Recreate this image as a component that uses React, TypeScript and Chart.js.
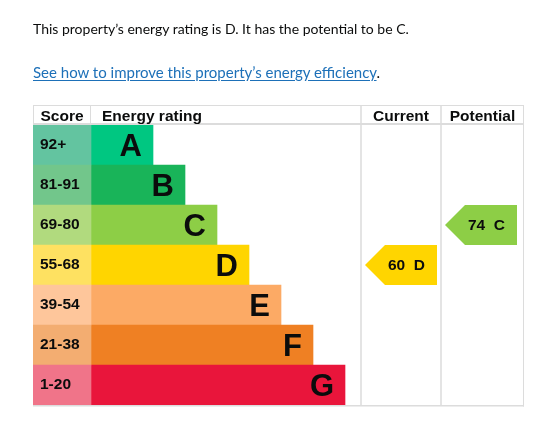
import React, { useEffect, useRef } from "react";
import { Chart, registerables } from "chart.js";

Chart.register(...registerables);

// ---- data ----
const bands = ["A", "B", "C", "D", "E", "F", "G"];
const scoreRanges = ["92+", "81-91", "69-80", "55-68", "39-54", "21-38", "1-20"];
const bandMinScores = [92, 81, 69, 55, 39, 21, 1];
const barReach = [1, 2, 3, 4, 5, 6, 7];
const bandColors = ["#00c781", "#19b459", "#8dce46", "#ffd500", "#fcaa65", "#ef8023", "#e9153b"];
const scoreCellColors = ["#63c4a0", "#72c68b", "#b1da7e", "#fee161", "#fec69b", "#f3ad71", "#f07489"];
const currentScore = 60;
const potentialScore = 74;
const columnHeaders = ["Score", "Energy rating", "Current", "Potential"];
const currentRating = "D";
const potentialRating = "C";

// ---- layout (x-scale units) ----
const X_SCORE = -2.75;
const X_BAR = -0.9375;
const X_CUR = 7.5;
const X_POT = 10;
const X_MAX = 12.59375;

const TEXT = "#0b0c0c";
const GRID = "#dcdcdc";
const HEAD_FONT = "bold 15.5px 'Liberation Sans', Arial, sans-serif";

function bandIndex(score: number) {
  for (let i = 0; i < bandMinScores.length; i++) if (score >= bandMinScores[i]) return i;
  return bandMinScores.length - 1;
}

const tablePlugin = {
  id: "epcTable",
  afterDatasetsDraw(chart: any) {
    const { ctx, chartArea, scales } = chart;
    const { left, right, top, bottom } = chartArea;
    const x = scales.x;
    const y = scales.y;
    const rowH = (bottom - top) / bands.length;
    const headTop = top - 20;
    const xScore = x.getPixelForValue(X_SCORE);
    const xBar = x.getPixelForValue(X_BAR);
    const xCur = x.getPixelForValue(X_CUR);
    const xPot = x.getPixelForValue(X_POT);
    const xEnd = x.getPixelForValue(X_MAX);

    ctx.save();
    // grid lines
    ctx.fillStyle = GRID;
    ctx.fillRect(left, headTop, right - left, 1);
    ctx.fillRect(left, top - 2, right - left, 2);
    ctx.fillRect(left, bottom, right - left, 1.5);
    ctx.fillRect(xScore, headTop, 1, 20);
    ctx.fillRect(xBar - 1, headTop, 1, 20);
    ctx.fillRect(xCur - 0.75, headTop, 1.5, bottom - headTop);
    ctx.fillRect(xPot - 0.75, headTop, 1.5, bottom - headTop);
    ctx.fillRect(xEnd - 1, headTop, 1, bottom - headTop + 1.5);

    // header text
    ctx.fillStyle = TEXT;
    ctx.font = HEAD_FONT;
    ctx.textBaseline = "alphabetic";
    const hb = top - 4;
    ctx.textAlign = "center";
    ctx.fillText(columnHeaders[0], (xScore + xBar) / 2, hb);
    ctx.textAlign = "left";
    ctx.fillText(columnHeaders[1], xBar + 11, hb);
    ctx.textAlign = "center";
    ctx.fillText(columnHeaders[2], (xCur + xPot) / 2, hb);
    ctx.fillText(columnHeaders[3], (xPot + xEnd) / 2, hb);

    // score labels and band letters
    bands.forEach((b, i) => {
      const yc = y.getPixelForValue(i);
      ctx.font = HEAD_FONT;
      ctx.textAlign = "left";
      ctx.fillText(scoreRanges[i], xScore + 7, yc + 4);
      ctx.font = "bold 31px 'Liberation Sans', Arial, sans-serif";
      ctx.textAlign = "right";
      ctx.fillText(b, x.getPixelForValue(barReach[i]) - 11, yc + 11);
    });

    // arrows
    const arrows = [
      { score: currentScore, rating: currentRating, colLeft: xCur },
      { score: potentialScore, rating: potentialRating, colLeft: xPot },
    ];
    arrows.forEach((a) => {
      const i = bandIndex(a.score);
      const yc = y.getPixelForValue(i);
      const half = rowH / 2;
      const tip = a.colLeft + 4;
      const r = tip + 72;
      ctx.beginPath();
      ctx.moveTo(tip, yc);
      ctx.lineTo(tip + half, yc - half);
      ctx.lineTo(r, yc - half);
      ctx.lineTo(r, yc + half);
      ctx.lineTo(tip + half, yc + half);
      ctx.closePath();
      ctx.fillStyle = bandColors[i];
      ctx.fill();
      ctx.fillStyle = TEXT;
      ctx.font = HEAD_FONT;
      ctx.textAlign = "center";
      ctx.fillText(`${a.score}  ${a.rating}`, tip + 41.5, yc + 5);
    });
    ctx.restore();
  },
};

export default function App() {
  const ref = useRef<HTMLCanvasElement | null>(null);
  useEffect(() => {
    if (!ref.current) return;
    const barCommon = {
      grouped: false,
      categoryPercentage: 1,
      barPercentage: 1,
      borderWidth: 0,
    };
    const chart = new Chart(ref.current, {
      type: "bar",
      data: {
        labels: bands,
        datasets: [
          { ...barCommon, data: bands.map(() => [X_SCORE, X_BAR]), backgroundColor: scoreCellColors },
          { ...barCommon, data: barReach.map((v) => [X_BAR, v]), backgroundColor: bandColors },
        ] as any,
      },
      options: {
        indexAxis: "y",
        animation: false,
        responsive: false,
        maintainAspectRatio: false,
        layout: { padding: { left: 33, right: 23, top: 125, bottom: 21 } },
        scales: {
          x: { type: "linear", min: X_SCORE, max: X_MAX, display: false },
          y: { type: "category", display: false, offset: true },
        },
        plugins: { legend: { display: false }, tooltip: { enabled: false } },
      } as any,
      plugins: [tablePlugin],
    });
    return () => chart.destroy();
  }, []);

  const textStyle: React.CSSProperties = {
    position: "absolute",
    left: 33,
    margin: 0,
    fontFamily: "Lato, sans-serif",
    lineHeight: "15px",
    whiteSpace: "nowrap",
    color: TEXT,
  };

  return (
    <div style={{ position: "absolute", left: 0, top: 0, width: 547, height: 426, background: "#fff" }}>
      <canvas ref={ref} width={547} height={426} style={{ position: "absolute", left: 0, top: 0, width: 547, height: 426 }} />
      <p style={{ ...textStyle, top: 20.5, fontSize: 14 }}>
        This property’s energy rating is D. It has the potential to be C.
      </p>
      <p style={{ ...textStyle, top: 64.5, fontSize: 15 }}>
        <a href="#" style={{ color: "#1d70b8", textDecoration: "underline", textUnderlineOffset: 2 }}>
          See how to improve this property’s energy efficiency
        </a>
        .
      </p>
    </div>
  );
}
